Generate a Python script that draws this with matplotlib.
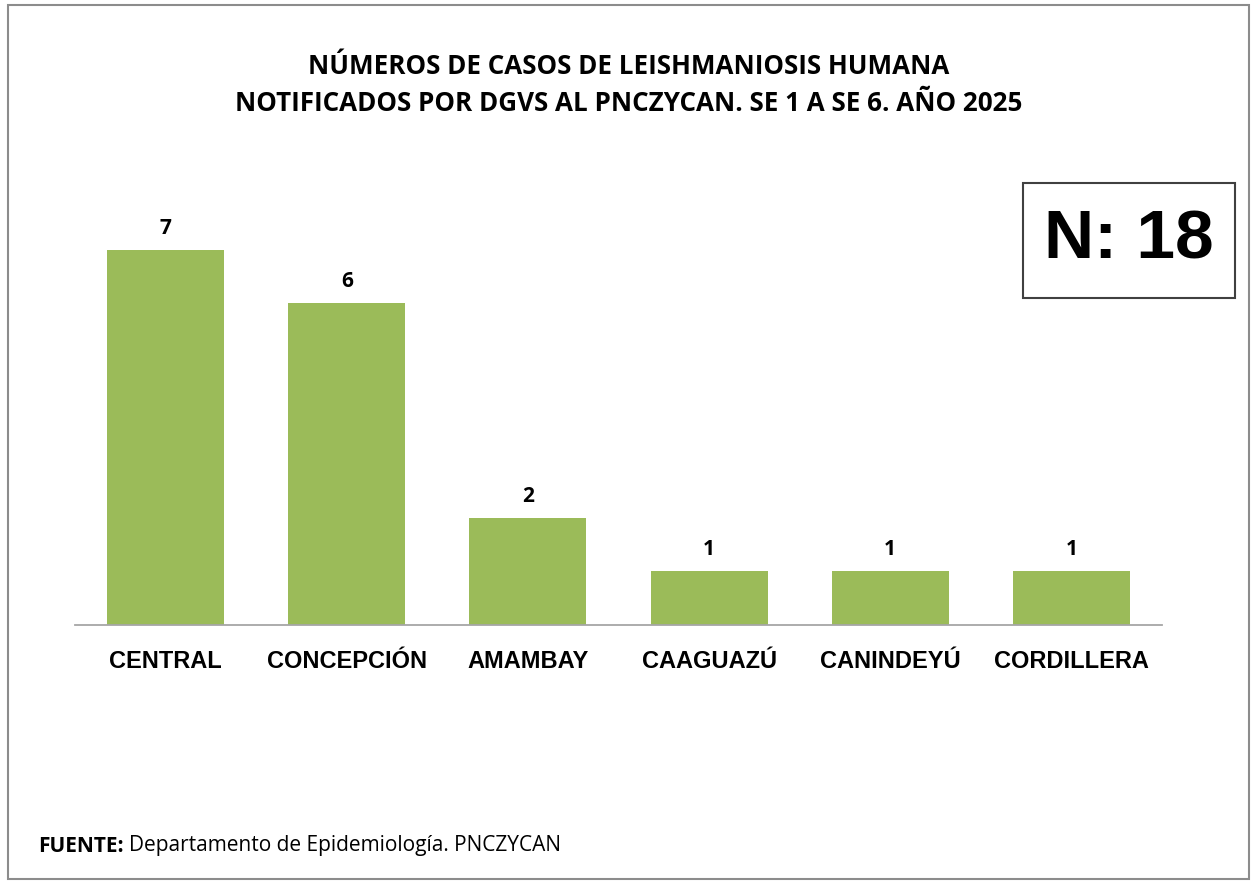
import matplotlib.pyplot as plt
from matplotlib.patches import Rectangle

departamentos = ["CENTRAL", "CONCEPCIÓN", "AMAMBAY", "CAAGUAZÚ", "CANINDEYÚ", "CORDILLERA"]
casos = [7, 6, 2, 1, 1, 1]
total_casos = 18

titulo = ("NÚMEROS DE CASOS DE LEISHMANIOSIS HUMANA\n"
          "NOTIFICADOS POR DGVS AL PNCZYCAN. SE 1 A SE 6. AÑO 2025")

W, H = 1251, 882
fig = plt.figure(figsize=(W / 100, H / 100), dpi=100)

# outer gray frame
fig.patches.append(Rectangle((8 / W, 1 - 879 / H), (1249 - 8) / W, (879 - 5) / H,
                             transform=fig.transFigure, fill=False,
                             edgecolor="#8c8c8c", linewidth=1.5))

ax = fig.add_axes([75 / W, 1 - 625 / H, 1087 / W, 429 / H])
x = range(len(departamentos))
bars = ax.bar(x, casos, width=0.645, color="#9BBB59")
ax.set_xlim(-0.5, len(departamentos) - 0.5)
ax.set_ylim(0, 8)

for b, v in zip(bars, casos):
    ax.annotate(str(v), (b.get_x() + b.get_width() / 2, v), xytext=(0, 8),
                textcoords="offset points", ha="center", va="bottom",
                fontsize=15, fontweight="bold", family="Open Sans")

ax.set_xticks(list(x))
ax.set_xticklabels(departamentos, fontsize=17, fontweight="bold",
                   family="Liberation Sans")
ax.tick_params(axis="x", length=0, pad=18)
ax.set_yticks([])
for side in ["left", "right", "top"]:
    ax.spines[side].set_visible(False)
ax.spines["bottom"].set_color("#a6a6a6")
ax.spines["bottom"].set_linewidth(1.3)

fig.text(629 / W, 1 - 85 / H, titulo, ha="center", va="center",
         fontsize=18.7, fontweight="bold", family="Open Sans", linespacing=1.5)

# N box
fig.patches.append(Rectangle((1023 / W, 1 - 298 / H), 212 / W, 115 / H,
                             transform=fig.transFigure, fill=False,
                             edgecolor="#404040", linewidth=1.5))
fig.text(1129 / W, 1 - 240 / H, f"N: {total_casos}", ha="center", va="center",
         fontsize=50, fontweight="bold", family="Liberation Sans")

fuente = fig.text(38 / W, 1 - 846 / H, "FUENTE:", ha="left", va="center",
                  fontsize=15, fontweight="bold", family="Open Sans")
fig.canvas.draw()
ext = fuente.get_window_extent()
fig.text((ext.x1 + 5) / W, 1 - 846 / H, "Departamento de Epidemiología. PNCZYCAN",
         ha="left", va="center", fontsize=15, family="Open Sans")

fig.savefig("out.png", dpi=100)
